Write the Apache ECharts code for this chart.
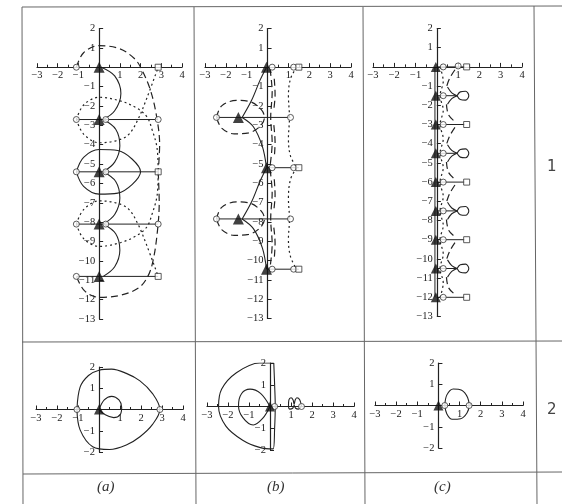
<!DOCTYPE html>
<html>
<head>
<meta charset="utf-8">
<script src="https://cdn.jsdelivr.net/npm/echarts@6/dist/echarts.min.js"></script>
<style>
  html, body { margin: 0; padding: 0; background: #fff; }
  #chart { width: 562px; height: 504px; }
</style>
</head>
<body>
<div id="chart"></div>
<script>
// ---------- tick labels ----------
const xTickLabels = ['-3', '-2', '-1', '1', '2', '3', '4'];
const yTickLabelsTall = ['2', '1', '-1', '-2', '-3', '-4', '-5', '-6', '-7', '-8', '-9', '-10', '-11', '-12', '-13'];
const yTickLabelsShort = ['2', '1', '-1', '-2'];
const rowLabels = ['1', '2'];
const columnLabels = ['(a)', '(b)', '(c)'];

// ---------- panel 1(a) ----------
const a1Poles = [[0, 0], [0, -2.7], [0, -5.4], [0, -8.1], [0, -10.8]];
const a1Circles = [[-1.1, 0], [-1.1, -2.7], [-1.1, -5.4], [-1.1, -8.1], [-1.1, -10.8],
                   [2.85, -2.7], [2.85, -8.1], [0.32, -2.7], [0.32, -5.4], [0.32, -8.1]];
const a1Squares = [[2.85, 0], [2.85, -5.4], [2.85, -10.8]];
const a1Rungs = [
  [[-1.1, -2.7], [2.85, -2.7]],
  [[-1.1, -5.4], [2.85, -5.4]],
  [[-1.1, -8.1], [2.85, -8.1]],
  [[-1.1, -10.8], [2.85, -10.8]]
];
const a1Solid = [
  [[0.1, 0], [0.75, -0.45], [1.05, -1.35], [0.75, -2.25], [0.2, -2.7]],
  [[0.2, -2.7], [0.8, -3.2], [1.0, -4.05], [0.75, -4.9], [0.2, -5.4]],
  [[0.2, -5.4], [0.8, -5.9], [1.0, -6.75], [0.75, -7.6], [0.2, -8.1]],
  [[0.2, -8.1], [0.8, -8.6], [1.0, -9.45], [0.75, -10.3], [0.2, -10.8]],
  [[-1.1, -5.4], [-0.75, -4.65], [0, -4.25], [0.9, -4.3], [1.6, -4.75], [2.0, -5.4],
   [1.6, -6.05], [0.9, -6.5], [0, -6.55], [-0.75, -6.15], [-1.1, -5.4]]
];
const a1Dashed = [
  [[-1.1, 0], [-0.75, 0.75], [0, 1.12], [1.0, 0.95], [1.7, 0.45], [2.0, 0], [2.45, -1.1],
   [2.75, -2.4], [2.92, -4.0], [2.85, -5.4]],
  [[2.85, -5.4], [2.9, -7.0], [2.8, -8.6], [2.6, -10.0], [2.35, -10.8], [1.9, -11.4],
   [1.0, -11.78], [0, -11.88], [-0.7, -11.55], [-1.1, -10.8]]
];
const a1Dotted = [
  [[-1.1, -2.7], [-0.75, -1.95], [0, -1.55], [1.05, -1.75], [1.8, -2.1], [2.3, -2.55],
   [2.55, -3.2], [2.8, -4.2], [2.85, -5.4]],
  [[-1.1, -2.7], [-0.75, -3.45], [0, -3.9], [0.8, -3.8], [1.4, -3.5], [1.85, -2.75],
   [2.3, -1.6], [2.85, 0]],
  [[-1.1, -8.1], [-0.75, -7.35], [0, -6.9], [0.8, -7.0], [1.4, -7.3], [1.85, -8.05],
   [2.3, -9.2], [2.85, -10.8]],
  [[-1.1, -8.1], [-0.75, -8.85], [0, -9.25], [1.05, -9.05], [1.8, -8.7], [2.3, -8.25],
   [2.55, -7.6], [2.8, -6.6], [2.85, -5.4]]
];

// ---------- panel 1(b) ----------
const b1Poles = [[-0.05, 0], [-1.4, -2.6], [-0.05, -5.2], [-1.4, -7.85], [-0.05, -10.45]];
const b1Circles = [[1.1, -2.6], [1.1, -7.85], [0.22, 0], [0.22, -5.2], [0.22, -10.45],
                   [1.25, 0], [1.25, -5.2], [1.25, -10.45], [-2.45, -2.6], [-2.45, -7.85]];
const b1Squares = [[1.5, 0], [1.5, -5.2], [1.5, -10.45]];
const b1Rungs = [
  [[-2.45, -2.6], [1.1, -2.6]],
  [[-2.45, -7.85], [1.1, -7.85]],
  [[0, -5.2], [1.5, -5.2]],
  [[0, -10.45], [1.5, -10.45]]
];
const b1Solid = [
  [[-0.05, 0], [-0.36, -0.67], [-0.76, -1.7], [-1.22, -2.6]],
  [[-1.22, -2.6], [-0.68, -3.08], [-0.25, -4.1], [-0.05, -5.2]],
  [[-0.05, -5.2], [-0.36, -5.9], [-0.76, -6.95], [-1.22, -7.85]],
  [[-1.22, -7.85], [-0.68, -8.35], [-0.25, -9.35], [-0.05, -10.45]]
];
const b1Dashed = [
  [[-2.45, -2.6], [-2.2, -2.0], [-1.5, -1.72], [-0.8, -1.8], [-0.3, -2.2], [-0.15, -2.6],
   [-0.35, -3.05], [-0.9, -3.4], [-1.6, -3.45], [-2.2, -3.15], [-2.45, -2.6]],
  [[-2.45, -7.85], [-2.2, -7.25], [-1.5, -6.97], [-0.8, -7.05], [-0.3, -7.45], [-0.15, -7.85],
   [-0.35, -8.3], [-0.9, -8.65], [-1.6, -8.7], [-2.2, -8.4], [-2.45, -7.85]],
  [[0.12, -0.1], [0.22, -1.3], [0.15, -2.6], [0.22, -3.9], [0.12, -5.1]],
  [[0.12, -5.3], [0.22, -6.5], [0.15, -7.85], [0.22, -9.15], [0.12, -10.35]],
  [[0.32, -0.6], [0.36, -1.4], [0.3, -2.2]],
  [[0.3, -3.0], [0.36, -3.9], [0.32, -4.7]],
  [[0.32, -5.8], [0.36, -6.6], [0.3, -7.4]],
  [[0.3, -8.3], [0.36, -9.1], [0.32, -9.9]]
];
const b1Dotted = [
  [[1.4, 0], [1.1, -0.6], [1.0, -1.5], [1.05, -2.6], [1.0, -3.7], [1.1, -4.6], [1.4, -5.2]],
  [[1.4, -5.2], [1.1, -5.8], [1.0, -6.8], [1.05, -7.85], [1.0, -8.9], [1.1, -9.8], [1.4, -10.45]]
];

// ---------- panel 1(c) ----------
const c1Poles = [[-0.05, 0], [-0.05, -1.5], [-0.05, -3], [-0.05, -4.5], [-0.05, -6],
                 [-0.05, -7.5], [-0.05, -9], [-0.05, -10.5], [-0.05, -12]];
const c1Circles = [[0.3, 0], [0.3, -1.5], [0.3, -3], [0.3, -4.5], [0.3, -6], [0.3, -7.5],
                   [0.3, -9], [0.3, -10.5], [0.3, -12], [1.0, 0.05]];
const c1Squares = [[1.4, 0], [1.4, -3], [1.4, -6], [1.4, -9], [1.4, -12]];
const c1Rungs = [
  [[0, 0], [1.3, 0]], [[0, -3], [1.3, -3]], [[0, -6], [1.3, -6]], [[0, -9], [1.3, -9]], [[0, -12], [1.3, -12]],
  [[0, -1.5], [0.95, -1.5]], [[0, -4.5], [0.95, -4.5]], [[0, -7.5], [0.95, -7.5]], [[0, -10.5], [0.95, -10.5]],
  [[-0.09, 0], [-0.09, -12]]
];
const c1Solid = [
  [[0.95, -1.5], [1.1, -1.3], [1.35, -1.27], [1.5, -1.5], [1.35, -1.73], [1.1, -1.7], [0.95, -1.5]],
  [[0.95, -4.5], [1.1, -4.3], [1.35, -4.27], [1.5, -4.5], [1.35, -4.73], [1.1, -4.7], [0.95, -4.5]],
  [[0.95, -7.5], [1.1, -7.3], [1.35, -7.27], [1.5, -7.5], [1.35, -7.73], [1.1, -7.7], [0.95, -7.5]],
  [[0.95, -10.5], [1.1, -10.3], [1.35, -10.27], [1.5, -10.5], [1.35, -10.73], [1.1, -10.7], [0.95, -10.5]],
  [[0.5, -1.05], [0.7, -1.35], [0.95, -1.5]], [[0.5, -1.95], [0.7, -1.65], [0.95, -1.5]],
  [[0.5, -4.05], [0.7, -4.35], [0.95, -4.5]], [[0.5, -4.95], [0.7, -4.65], [0.95, -4.5]],
  [[0.5, -7.05], [0.7, -7.35], [0.95, -7.5]], [[0.5, -7.95], [0.7, -7.65], [0.95, -7.5]],
  [[0.5, -10.05], [0.7, -10.35], [0.95, -10.5]], [[0.5, -10.95], [0.7, -10.65], [0.95, -10.5]]
];
const c1Dashed = [
  [[0.85, -0.15], [0.6, -0.6], [0.45, -1.05]], [[0.45, -1.95], [0.55, -2.5], [0.85, -2.85]],
  [[0.85, -3.15], [0.6, -3.6], [0.45, -4.05]], [[0.45, -4.95], [0.55, -5.5], [0.85, -5.85]],
  [[0.85, -6.15], [0.6, -6.6], [0.45, -7.05]], [[0.45, -7.95], [0.55, -8.5], [0.85, -8.85]],
  [[0.85, -9.15], [0.6, -9.6], [0.45, -10.05]], [[0.45, -10.95], [0.55, -11.5], [0.85, -11.85]]
];
const c1Dotted = [
  [[0.15, 0], [0.3, -0.75], [0.15, -1.5], [0.3, -2.25], [0.15, -3], [0.3, -3.75], [0.15, -4.5],
   [0.3, -5.25], [0.15, -6], [0.3, -6.75], [0.15, -7.5], [0.3, -8.25], [0.15, -9], [0.3, -9.75],
   [0.15, -10.5], [0.3, -11.25], [0.15, -12]]
];

// ---------- panel 2(a) ----------
const a2Poles = [[0, 0]];
const a2Circles = [[-1.05, 0], [2.9, 0]];
const a2Solid = [
  [[-1.05, 0], [-0.9, 1.05], [-0.5, 1.6], [0, 1.85], [0.6, 1.9], [1.3, 1.7], [1.95, 1.35],
   [2.55, 0.75], [2.9, 0], [2.55, -0.7], [1.95, -1.28], [1.3, -1.67], [0.5, -1.88],
   [-0.3, -1.75], [-0.9, -0.96], [-1.05, 0]],
  [[0, 0], [0.25, 0.45], [0.6, 0.62], [0.95, 0.45], [1.08, 0.1], [1.0, -0.25], [0.7, -0.38],
   [0.3, -0.25], [0, 0]]
];

// ---------- panel 2(b) ----------
const b2Poles = [[0, 0]];
const b2Circles = [[0.22, 0], [1.5, 0]];
const b2Solid = [
  [[0.18, 2.0], [-0.5, 2.0], [-1.6, 1.55], [-2.3, 0.8], [-2.45, 0], [-2.1, -0.9], [-1.3, -1.55],
   [-0.5, -1.88], [0.15, -1.95], [0.22, -1.0], [0.25, 0], [0.22, 1.0], [0.18, 2.0]],
  [[0, 0], [-0.45, 0.6], [-0.95, 0.8], [-1.35, 0.6], [-1.5, 0.05], [-1.3, -0.5], [-0.8, -0.85],
   [-0.35, -0.55], [0, 0]],
  [[1.5, 0], [1.42, 0.3], [1.28, 0.4], [1.2, 0.3], [1.15, 0.1], [1.1, 0.3], [1.0, 0.4],
   [0.9, 0.3], [0.88, 0.05], [0.95, -0.12], [1.08, -0.08], [1.15, 0.05], [1.22, -0.08],
   [1.35, -0.12], [1.5, 0]]
];

// ---------- panel 2(c) ----------
const c2Poles = [[0, 0]];
const c2Circles = [[0.3, 0], [1.45, 0]];
const c2Solid = [
  [[0.3, 0], [0.4, 0.5], [0.7, 0.78], [1.1, 0.72], [1.38, 0.38], [1.45, 0], [1.35, -0.35],
   [1.05, -0.62], [0.65, -0.65], [0.4, -0.4], [0.3, 0]]
];

// ---------- layout ----------
const INK = '#222';
const FONT = 'Liberation Serif';
const X_MIN = -3, X_MAX = 4, Y_MAX = 2;
const panels = [
  { box: { left: 37, top: 28.5, width: 145, height: 290.5 }, ymin: -13, yLabels: yTickLabelsTall,
    poles: a1Poles, circles: a1Circles, squares: a1Squares, rungs: a1Rungs,
    solid: a1Solid, dashed: a1Dashed, dotted: a1Dotted, tri: 11 },
  { box: { left: 205, top: 28.5, width: 146, height: 290 }, ymin: -13, yLabels: yTickLabelsTall,
    poles: b1Poles, circles: b1Circles, squares: b1Squares, rungs: b1Rungs,
    solid: b1Solid, dashed: b1Dashed, dotted: b1Dotted, tri: 11 },
  { box: { left: 373, top: 28.5, width: 149, height: 288 }, ymin: -13, yLabels: yTickLabelsTall,
    poles: c1Poles, circles: c1Circles, squares: c1Squares, rungs: c1Rungs,
    solid: c1Solid, dashed: c1Dashed, dotted: c1Dotted, tri: 10 },
  { box: { left: 36, top: 367, width: 147, height: 85 }, ymin: -2, yLabels: yTickLabelsShort,
    poles: a2Poles, circles: a2Circles, squares: [], rungs: [],
    solid: a2Solid, dashed: [], dotted: [], tri: 10 },
  { box: { left: 207, top: 363, width: 147, height: 87 }, ymin: -2, yLabels: yTickLabelsShort,
    poles: b2Poles, circles: b2Circles, squares: [], rungs: [],
    solid: b2Solid, dashed: [], dotted: [], tri: 10 },
  { box: { left: 375, top: 363, width: 148, height: 85 }, ymin: -2, yLabels: yTickLabelsShort,
    poles: c2Poles, circles: c2Circles, squares: [], rungs: [],
    solid: c2Solid, dashed: [], dotted: [], tri: 10 }
];

const fmt = (labels) => (v) => {
  const s = String(v);
  return labels.indexOf(s) >= 0 ? s.replace('-', '\u2212') : '';
};

const grid = [], xAxis = [], yAxis = [], series = [];

function curveSeries(segs, i, type, width, smooth) {
  segs.forEach(seg => {
    series.push({
      type: 'line', xAxisIndex: i, yAxisIndex: i, data: seg,
      smooth: smooth, symbol: 'none', silent: true, z: 3,
      lineStyle: { color: INK, width: width, type: type }
    });
  });
}

function markerSeries(pts, i, symbol, size, filled) {
  if (!pts.length) return;
  series.push({
    type: 'scatter', xAxisIndex: i, yAxisIndex: i, data: pts, symbol: symbol,
    symbolSize: size, silent: true, z: 6,
    itemStyle: filled ? { color: '#111' } : { color: '#fff', borderColor: '#333', borderWidth: 1 }
  });
}

panels.forEach((p, i) => {
  const b = p.box;
  // axes cross at the origin: shift each axis from the grid edge to the zero line
  const xShift = b.height * (0 - p.ymin) / (Y_MAX - p.ymin);
  const yShift = b.width * (0 - X_MIN) / (X_MAX - X_MIN);
  grid.push(Object.assign({ containLabel: false, outerBoundsMode: 'none' }, b));
  xAxis.push({
    gridIndex: i, type: 'value', min: X_MIN, max: X_MAX, interval: 1,
    position: 'bottom', offset: -xShift,
    axisLine: { onZero: false, lineStyle: { color: INK, width: 1.2 } },
    axisTick: { inside: true, length: 4, lineStyle: { color: INK } },
    minorTick: { show: true, splitNumber: 2, length: 2.5, lineStyle: { color: INK } },
    splitLine: { show: false }, minorSplitLine: { show: false },
    axisLabel: { formatter: fmt(xTickLabels), fontFamily: FONT, fontSize: 10.5, color: INK, margin: 3,
                 showMinLabel: true, showMaxLabel: true }
  });
  yAxis.push({
    gridIndex: i, type: 'value', min: p.ymin, max: Y_MAX, interval: 1,
    position: 'left', offset: -yShift,
    axisLine: { onZero: false, lineStyle: { color: INK, width: 1.2 } },
    axisTick: { inside: true, length: 4, lineStyle: { color: INK } },
    splitLine: { show: false },
    axisLabel: { formatter: fmt(p.yLabels), fontFamily: FONT, fontSize: 10.5, color: INK, margin: 4,
                 showMinLabel: true, showMaxLabel: true }
  });
  curveSeries(p.rungs, i, 'solid', 1, false);
  curveSeries(p.solid, i, 'solid', 1.1, 0.35);
  curveSeries(p.dashed, i, [7, 4], 1.2, 0.35);
  curveSeries(p.dotted, i, [2, 3], 1.2, 0.35);
  markerSeries(p.circles, i, 'circle', 6, false);
  markerSeries(p.squares, i, 'rect', 6, false);
  markerSeries(p.poles, i, 'triangle', p.tri, true);
});

// ---------- table rules and captions ----------
const rule = (x1, y1, x2, y2) => ({
  type: 'line', silent: true, z: 1,
  shape: { x1, y1, x2, y2 },
  style: { stroke: '#666', lineWidth: 1 }
});
const graphic = [
  rule(22, 7, 562, 6),
  rule(22, 7, 23, 504),
  rule(194, 7, 196, 504),
  rule(363, 7, 365, 504),
  rule(534, 6, 537, 504),
  rule(22, 342, 562, 341),
  rule(23, 474, 562, 472),
  { type: 'text', silent: true, left: 547, top: 160,
    style: { text: rowLabels[0], font: '15px "DejaVu Sans"', fill: '#444' } },
  { type: 'text', silent: true, left: 547, top: 403,
    style: { text: rowLabels[1], font: '15px "DejaVu Sans"', fill: '#444' } },
  { type: 'text', silent: true, left: 97, top: 480,
    style: { text: columnLabels[0], font: 'italic 15px "Liberation Serif"', fill: '#333' } },
  { type: 'text', silent: true, left: 267, top: 480,
    style: { text: columnLabels[1], font: 'italic 15px "Liberation Serif"', fill: '#333' } },
  { type: 'text', silent: true, left: 434, top: 480,
    style: { text: columnLabels[2], font: 'italic 15px "Liberation Serif"', fill: '#333' } }
];

const chart = echarts.init(document.getElementById('chart'), null, { renderer: 'canvas' });
chart.setOption({
  animation: false,
  backgroundColor: '#fff',
  grid, xAxis, yAxis, series, graphic
});
</script>
</body>
</html>
